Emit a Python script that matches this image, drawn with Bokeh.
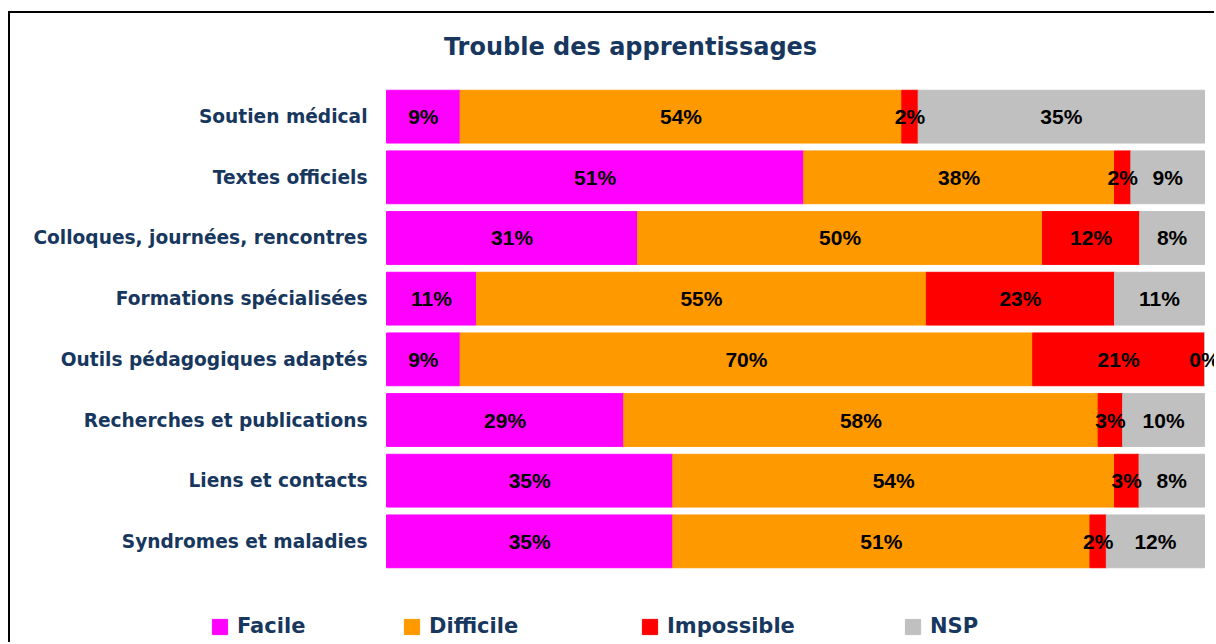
from bokeh.plotting import figure
from bokeh.models import ColumnDataSource, FactorRange, Range1d, Legend, LegendItem, Label
from bokeh.core.properties import value
from bokeh.embed import file_html
from bokeh.resources import INLINE

# ---------------- data ----------------
categories = [
    "Soutien médical",
    "Textes officiels",
    "Colloques, journées, rencontres",
    "Formations spécialisées",
    "Outils pédagogiques adaptés",
    "Recherches et publications",
    "Liens et contacts",
    "Syndromes et maladies",
]
series = ["Facile", "Difficile", "Impossible", "NSP"]
facile = [9, 51, 31, 11, 9, 29, 35, 35]
difficile = [54, 38, 50, 55, 70, 58, 54, 51]
impossible = [2, 2, 12, 23, 21, 3, 3, 2]
nsp = [35, 9, 8, 11, 0, 10, 8, 12]
colors = ["#FF00FF", "#FF9900", "#FF0000", "#C0C0C0"]
title_text = "Trouble des apprentissages"

# ---------------- layout / styling ----------------
DARK = "#17375E"
W, H = 1206, 631
X0_PX, X100_PX = 376, 1194          # canvas px where 0 % and 100 % fall
PX_PER_UNIT = (X100_PX - X0_PX) / 100.0

values = [facile, difficile, impossible, nsp]
totals = [sum(v[i] for v in values) for i in range(len(categories))]

data = {"cat": categories}
for name, vals in zip(series, values):
    data[name] = [v * 100.0 / t for v, t in zip(vals, totals)]
source = ColumnDataSource(data)

lx, ly, lt = [], [], []
for i, cat in enumerate(categories):
    left = 0.0
    for name, vals in zip(series, values):
        w = data[name][i]
        lx.append(left + w / 2.0)
        ly.append(cat)
        lt.append(f"{vals[i]}%")
        left += w
label_source = ColumnDataSource(dict(x=lx, y=ly, t=lt))
cat_source = ColumnDataSource(dict(x=[0] * len(categories), y=categories, t=categories))

p = figure(
    width=W, height=H,
    y_range=FactorRange(*reversed(categories), range_padding=1.2, range_padding_units="absolute"),
    x_range=Range1d(-X0_PX / PX_PER_UNIT, (W - X0_PX) / PX_PER_UNIT),
    output_backend="svg", toolbar_location=None,
    min_border=0, min_border_left=0, min_border_right=0,
    min_border_top=0, min_border_bottom=0,
)
p.styles = {"border-left": "2px solid black", "border-top": "2px solid black",
            "margin-left": "8px", "margin-top": "11px"}
p.axis.visible = False
p.grid.visible = False
p.outline_line_color = None

renderers = p.hbar_stack(series, y="cat", height=0.87, color=colors, source=source)

# percentage labels inside the segments
p.text(x="x", y="y", text="t", source=label_source,
       text_align="center", text_baseline="middle",
       text_font=value("Liberation Sans"), text_font_style="bold",
       text_font_size="21px", text_color="black")

# category labels (placed on the categorical scale, left of 0 %)
p.text(x="x", y="y", text="t", source=cat_source, x_offset=-19,
       text_align="right", text_baseline="middle",
       text_font=value("DejaVu Sans"), text_font_style="bold",
       text_font_size="18.6px", text_color=DARK)

title = Label(x=620, y=H - 33, x_units="screen", y_units="screen", text=title_text,
              text_align="center", text_baseline="middle",
              text_font="DejaVu Sans", text_font_style="bold",
              text_font_size="24px", text_color=DARK)
p.add_layout(title)

legend_x = [200, 392, 630, 893]
for name, r, lxp in zip(series, renderers, legend_x):
    leg = Legend(items=[LegendItem(label=name, renderers=[r])],
                 location=(lxp, 6), orientation="horizontal",
                 padding=0, margin=0, spacing=0,
                 glyph_width=19, glyph_height=19, label_height=19,
                 label_standoff=8,
                 label_text_font="DejaVu Sans", label_text_font_style="bold",
                 label_text_font_size="21px", label_text_color=DARK,
                 border_line_color=None, background_fill_alpha=0)
    p.add_layout(leg)

open("out.html", "w").write(file_html(p, INLINE))
